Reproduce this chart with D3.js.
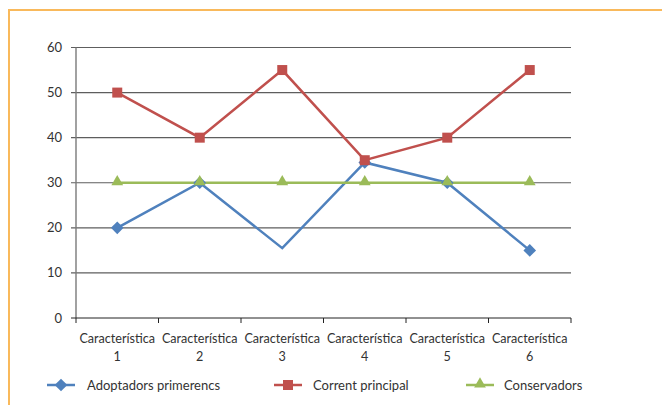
<!DOCTYPE html>
<html>
<head>
<meta charset="utf-8">
<script src="https://cdn.jsdelivr.net/npm/d3@7"></script>
<style>
  body { margin: 0; background: #fff; }
  svg { display: block; font-family: Lato, "Open Sans", sans-serif; }
</style>
</head>
<body>
<svg id="chart" width="662" height="405"></svg>
<script>
// chart data
var categories = ["Característica 1", "Característica 2", "Característica 3", "Característica 4", "Característica 5", "Característica 6"];
var adoptadors = [20, 30, 15.5, 34.5, 30, 15];
var adoptadorsMarker = [true, true, false, true, true, true];
var corrent = [50, 40, 55, 35, 40, 55];
var conservadors = [30, 30, 30, 30, 30, 30];
var yTicks = [0, 10, 20, 30, 40, 50, 60];
var seriesNames = ["Adoptadors primerencs", "Corrent principal", "Conservadors"];

var margin = { top: 47.5, left: 76, right: 91, bottom: 87 };
var svg = d3.select("#chart");
var width = 662 - margin.left - margin.right;
var height = 405 - margin.top - margin.bottom;

// orange frame
svg.append("path")
  .attr("d", "M9,405 L9,10 L662,10")
  .attr("fill", "none").attr("stroke", "#f9b95b").attr("stroke-width", 2);

var x = d3.scaleBand().domain(categories).range([0, width]);
var y = d3.scaleLinear().domain([0, 60]).range([height, 0]);
var g = svg.append("g").attr("transform", "translate(" + margin.left + "," + margin.top + ")");

// gridlines
g.selectAll(".grid").data(yTicks.filter(function (d) { return d > 0; })).enter().append("line")
  .attr("x1", -5).attr("x2", width)
  .attr("y1", function (d) { return y(d); }).attr("y2", function (d) { return y(d); })
  .attr("stroke", "#5e5e5e").attr("stroke-width", 1.1);

// y axis
g.append("line").attr("x1", 0).attr("x2", 0).attr("y1", 0).attr("y2", height)
  .attr("stroke", "#7a7a7a").attr("stroke-width", 1.4);
g.selectAll(".ylab").data(yTicks).enter().append("text")
  .attr("x", -14).attr("y", function (d) { return y(d); }).attr("dy", "0.35em")
  .attr("text-anchor", "end").attr("font-size", 13).attr("fill", "#333")
  .text(function (d) { return d; });

// x axis
g.append("line").attr("x1", -5).attr("x2", width).attr("y1", height).attr("y2", height)
  .attr("stroke", "#222").attr("stroke-width", 1);
var edges = categories.map(function (c) { return x(c); }).concat([width]);
g.selectAll(".xtick").data(edges).enter().append("line")
  .attr("x1", function (d) { return d; }).attr("x2", function (d) { return d; })
  .attr("y1", height).attr("y2", height + 5).attr("stroke", "#222");
var xl = g.selectAll(".xlab").data(categories).enter().append("text")
  .attr("x", function (d) { return x(d) + x.bandwidth() / 2; })
  .attr("y", height + 25).attr("text-anchor", "middle")
  .attr("font-size", 12.6).attr("fill", "#333");
xl.append("tspan").text(function (d) { return d.split(" ")[0]; });
xl.append("tspan").attr("x", function (d) { return x(d) + x.bandwidth() / 2; }).attr("dy", 18)
  .text(function (d) { return d.split(" ")[1]; });

function cx(i) { return x(categories[i]) + x.bandwidth() / 2; }
var line = d3.line().x(function (d, i) { return cx(i); }).y(function (d) { return y(d); });

var colors = ["#4f81bd", "#c0504d", "#9bbb59"];
var symbols = [d3.symbolSquare, d3.symbolSquare, d3.symbolTriangle];
var sizes = [80, 100, 60];
var rotate = [45, 0, 0];
var data = [adoptadors, corrent, conservadors];

data.forEach(function (vals, s) {
  g.append("path").datum(vals).attr("d", line)
    .attr("fill", "none").attr("stroke", colors[s]).attr("stroke-width", 2.5);
});
// markers
data.forEach(function (vals, s) {
  g.selectAll(".mk" + s).data(vals.map(function (v, i) { return { v: v, i: i }; })
      .filter(function (d) { return s !== 0 || adoptadorsMarker[d.i]; }))
    .enter().append("path")
    .attr("d", d3.symbol().type(symbols[s]).size(sizes[s]))
    .attr("transform", function (d) {
      return "translate(" + cx(d.i) + "," + (y(d.v) - (s === 2 ? 1 : 0)) + ") rotate(" + rotate[s] + ")";
    })
    .attr("fill", colors[s]);
});

// legend
var legX = [47, 274, 466];
var leg = svg.append("g").selectAll("g").data(seriesNames).enter().append("g")
  .attr("transform", function (d, i) { return "translate(" + legX[i] + ",385)"; });
leg.append("line").attr("x1", 0).attr("x2", 28)
  .attr("stroke", function (d, i) { return colors[i]; }).attr("stroke-width", 2.5);
leg.append("path")
  .attr("d", function (d, i) { return d3.symbol().type(symbols[i]).size(sizes[i])(); })
  .attr("transform", function (d, i) { return "translate(14," + (i === 2 ? -1 : 0) + ") rotate(" + rotate[i] + ")"; })
  .attr("fill", function (d, i) { return colors[i]; });
leg.append("text").attr("x", function (d, i) { return [40, 39, 38][i]; }).attr("dy", "0.35em")
  .attr("font-size", 13).attr("fill", "#333").text(function (d) { return d; });
</script>
</body>
</html>
